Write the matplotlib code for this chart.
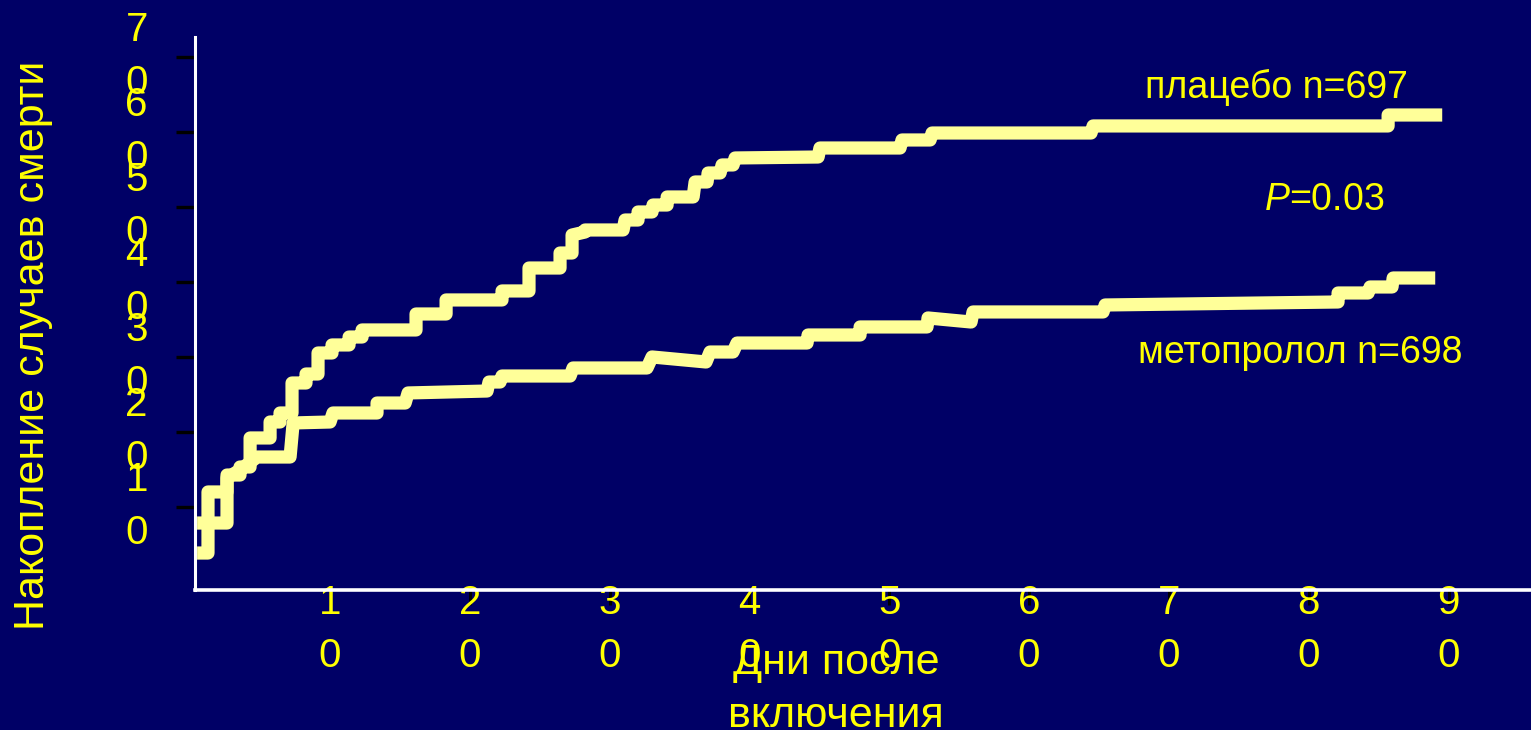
import matplotlib
matplotlib.use("Agg")
import matplotlib.pyplot as plt

plt.rcParams['font.family'] = ['Liberation Sans', 'DejaVu Sans']
plt.rcParams['mathtext.fontset'] = 'custom'
plt.rcParams['mathtext.rm'] = 'Liberation Sans'
plt.rcParams['mathtext.it'] = 'Liberation Sans:italic'

# --- data (days, cumulative deaths) ---
placebo_days = [0.49, 1.27, 1.27, 2.63, 2.63, 3.56, 3.56, 4.28, 4.28, 5.71, 5.71, 6.42, 6.42,
                7.28, 7.28, 8.28, 8.28, 9.14, 9.14, 10.14, 10.14, 11.36, 11.36, 12.29, 12.29,
                16.15, 16.15, 18.30, 18.30, 22.30, 22.30, 24.23, 24.23, 26.45, 26.45, 27.31,
                27.31, 28.24, 28.24, 30.96, 31.10, 32.03, 32.03, 33.03, 33.10, 34.11, 34.11,
                35.97, 36.11, 36.97, 37.04, 37.90, 38.04, 38.83, 38.97, 44.91, 45.04, 50.77,
                50.91, 52.92, 53.06, 64.43, 64.58, 85.68, 85.68, 89.55]
placebo_vals = [3.85, 3.85, 11.99, 11.99, 14.25, 14.25, 15.32, 15.32, 19.19, 19.19, 21.32, 21.32,
                22.52, 22.52, 26.52, 26.52, 27.72, 27.72, 30.52, 30.52, 31.59, 31.59, 32.65,
                32.65, 33.59, 33.59, 35.72, 35.72, 37.59, 37.59, 38.79, 38.79, 41.85, 41.85,
                43.85, 43.85, 46.25, 46.65, 46.92, 46.92, 48.25, 48.25, 49.32, 49.32, 50.25,
                50.25, 51.32, 51.32, 53.32, 53.32, 54.52, 54.52, 55.59, 55.59, 56.52, 56.65,
                57.85, 57.85, 58.92, 58.92, 59.85, 59.85, 60.79, 60.79, 62.25, 62.25]

metoprolol_days = [0.49, 2.63, 2.63, 3.56, 4.78, 7.14, 7.36, 10.00, 10.21, 13.36, 13.36, 15.37,
                   15.58, 21.23, 21.37, 22.16, 22.30, 27.17, 27.38, 32.67, 33.03, 36.89, 37.18,
                   38.82, 39.11, 44.12, 44.19, 47.91, 47.91, 52.70, 52.77, 55.85, 55.99, 65.29,
                   65.44, 82.10, 82.10, 84.25, 84.39, 85.96, 86.04, 89.05]
metoprolol_vals = [7.85, 7.85, 13.85, 14.92, 16.65, 16.65, 21.19, 21.32, 22.52, 22.52, 23.85,
                   23.85, 25.19, 25.45, 26.65, 26.65, 27.45, 27.45, 28.52, 28.52, 29.99, 29.32,
                   30.65, 30.65, 31.85, 31.85, 32.92, 32.92, 33.99, 33.99, 35.19, 34.65, 35.99,
                   35.99, 36.92, 37.32, 38.52, 38.52, 39.32, 39.32, 40.52, 40.52]

x_ticks = [10, 20, 30, 40, 50, 60, 70, 80, 90]
y_ticks = [10, 20, 30, 40, 50, 60, 70]
# the slide wraps every two-digit label onto two lines
x_ticklabels = ["\n".join(str(v)) for v in x_ticks]
y_ticklabels = ["\n".join(str(v)) for v in y_ticks]

BG = "#000066"
TXT = "#FFFF00"
LINE = "#FFFF99"

fig = plt.figure(figsize=(15.31, 7.30), dpi=100, facecolor=BG)
ax = fig.add_axes([195 / 1531, 140 / 730, 1336 / 1531, 553 / 730])
ax.set_facecolor(BG)

for d, v in [(placebo_days, placebo_vals), (metoprolol_days, metoprolol_vals)]:
    ax.plot(d, v, color=LINE, lw=9.5, solid_joinstyle='round', solid_capstyle='butt', zorder=2)

ax.set_xlim(0.34, 95.9)
ax.set_ylim(-1.08, 72.65)

for s in ['top', 'right']:
    ax.spines[s].set_visible(False)
ax.spines['left'].set_color('white')
ax.spines['left'].set_linewidth(2.2)
ax.spines['bottom'].set_color('white')
ax.spines['bottom'].set_linewidth(2.6)
for s in ['left', 'bottom']:
    ax.spines[s].set_zorder(5)

ax.set_xticks(x_ticks)
ax.set_xticklabels(x_ticklabels)
ax.set_yticks(y_ticks)
ax.set_yticklabels(y_ticklabels)
ax.tick_params(axis='y', direction='out', length=14, width=2.4, color='black',
               labelcolor=TXT, labelsize=29, pad=28)
ax.tick_params(axis='x', direction='out', length=11, width=2.2, color='black',
               labelcolor=TXT, labelsize=29, pad=-15.5)
for lbl in ax.get_xticklabels() + ax.get_yticklabels():
    lbl.set_linespacing(1.5)
for lbl in ax.get_yticklabels():
    lbl.set_horizontalalignment('center')
    lbl.set_verticalalignment('center')

ax.set_xlabel("Дни после\nвключения", color=TXT, fontsize=31, linespacing=1.4,
              va='center', ha='center')
ax.xaxis.set_label_coords(0.48, -0.18)
ax.set_ylabel("Накопление случаев смерти", color=TXT, fontsize=31,
              va='center', ha='center')
ax.yaxis.set_label_coords(-0.121, 0.443)

ax.text(77.7, 65.9, "плацебо n=697", color=TXT, fontsize=27, ha='center', va='center')
ax.text(81.1, 50.9, r"$P$=0.03", color=TXT, fontsize=27, ha='center', va='center')
ax.text(79.4, 30.5, "метопролол n=698", color=TXT, fontsize=27, ha='center', va='center')

fig.savefig("out.png", dpi=100, facecolor=BG)
